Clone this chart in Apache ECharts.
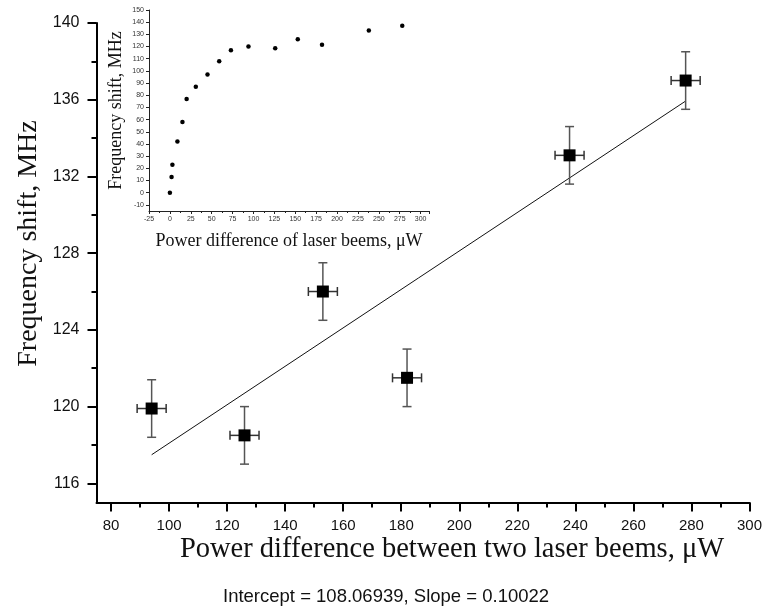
<!DOCTYPE html>
<html><head><meta charset="utf-8">
<script src="https://cdn.jsdelivr.net/npm/echarts@6/dist/echarts.min.js"></script>
<style>html,body{margin:0;padding:0;background:#fff}#c{width:765px;height:608px}</style>
</head><body><div id="c"></div>
<script>
// Main chart data
var powerDiff = [94, 126, 153, 182, 238, 278];
var freqShift = [119.9, 118.5, 126.0, 121.5, 133.1, 137.0];
var powerErr = [5, 5, 5, 5, 5, 5];
var freqErr = [1.5, 1.5, 1.5, 1.5, 1.5, 1.5];
var fitIntercept = 108.06939;
var fitSlope = 0.10022;
var fitRange = [94, 278];
var mainXLabels = [80, 100, 120, 140, 160, 180, 200, 220, 240, 260, 280, 300];
var mainXMinor = [90, 110, 130, 150, 170, 190, 210, 230, 250, 270, 290];
var mainYLabels = [116, 120, 124, 128, 132, 136, 140];
var mainYMinor = [118, 122, 126, 130, 134, 138];
// Inset data
var insetX = [0, 2, 3, 9, 15, 20, 31, 45, 59, 73, 94, 126, 153, 182, 238, 278];
var insetY = [0, 13, 23, 42, 58, 77, 87, 97, 108, 117, 120, 118.5, 126, 121.5, 133.1, 137];
var insetYLabels = [-10, 0, 10, 20, 30, 40, 50, 60, 70, 80, 90, 100, 110, 120, 130, 140, 150];

var serif = 'Liberation Serif';
var sans = 'Liberation Sans';

var errData = powerDiff.map(function (x, i) { return [x, freqShift[i], powerErr[i], freqErr[i]]; });
var ptData = powerDiff.map(function (x, i) { return [x, freqShift[i]]; });
var fitData = fitRange.map(function (x) { return [x, fitIntercept + fitSlope * x]; });
var insetData = insetX.map(function (x, i) { return [x, insetY[i]]; });

function renderErr(params, api) {
  var x = api.value(0), y = api.value(1), ex = api.value(2), ey = api.value(3);
  var t = api.coord([x, y + ey]), b = api.coord([x, y - ey]);
  var l = api.coord([x - ex, y]), r = api.coord([x + ex, y]);
  var cap = 4.5;
  var stV = { stroke: '#555', lineWidth: 1.5 };
  var stH = { stroke: '#333', lineWidth: 1.5 };
  function ln(x1, y1, x2, y2, st) { return { type: 'line', shape: { x1: x1, y1: y1, x2: x2, y2: y2 }, style: st }; }
  return { type: 'group', children: [
    ln(t[0], t[1], b[0], b[1], stV),
    ln(t[0] - cap, t[1], t[0] + cap, t[1], stV),
    ln(b[0] - cap, b[1], b[0] + cap, b[1], stV),
    ln(l[0], l[1], r[0], r[1], stH),
    ln(l[0], l[1] - cap, l[0], l[1] + cap, stH),
    ln(r[0], r[1] - cap, r[0], r[1] + cap, stH)
  ]};
}

var chart = echarts.init(document.getElementById('c'), null, { renderer: 'canvas' });
var axisLineMain = { show: true, onZero: false, lineStyle: { color: '#000', width: 2 } };
chart.setOption({
  animation: false,
  backgroundColor: '#fff',
  grid: [
    { left: 96.5, top: 23, right: 15, bottom: 105.5, containLabel: false },
    { left: 149, top: 10, width: 280, height: 201, containLabel: false }
  ],
  xAxis: [
    { type: 'value', gridIndex: 0, min: 75, max: 300, position: 'bottom',
      axisLine: axisLineMain,
      axisTick: { show: true, customValues: mainXLabels, length: 9, inside: false, lineStyle: { color: '#000', width: 2 } },
      axisLabel: { customValues: mainXLabels, fontFamily: sans, fontSize: 15, color: '#111', margin: 16 },
      splitLine: { show: false } },
    { type: 'value', gridIndex: 0, min: 75, max: 300, position: 'bottom',
      axisLine: { show: false },
      axisTick: { show: true, customValues: mainXMinor, length: 5, lineStyle: { color: '#000', width: 2 } },
      axisLabel: { show: false }, splitLine: { show: false } },
    { type: 'value', gridIndex: 1, min: -25, max: 310, interval: 25, position: 'bottom',
      axisLine: { show: true, onZero: false, lineStyle: { color: '#222', width: 1 } },
      axisTick: { show: true, length: 3, lineStyle: { color: '#222' } },
      minorTick: { show: true, splitNumber: 2, length: 2, lineStyle: { color: '#222' } },
      axisLabel: { fontFamily: sans, fontSize: 7, color: '#333', margin: 5,
        formatter: function (v) { return v > 300 ? '' : String(v); } },
      splitLine: { show: false },
      name: 'Power difference of laser beems, \u03bcW', nameLocation: 'middle', nameGap: 21,
      nameTextStyle: { fontFamily: serif, fontSize: 18, color: '#111', verticalAlign: 'top' } }
  ],
  yAxis: [
    { type: 'value', gridIndex: 0, min: 115, max: 140, position: 'left',
      axisLine: axisLineMain,
      axisTick: { show: true, customValues: mainYLabels, length: 9, lineStyle: { color: '#000', width: 2 } },
      axisLabel: { customValues: mainYLabels, fontFamily: sans, fontSize: 16, color: '#111', margin: 17 },
      splitLine: { show: false } },
    { type: 'value', gridIndex: 0, min: 115, max: 140, position: 'left',
      axisLine: { show: false },
      axisTick: { show: true, customValues: mainYMinor, length: 5, lineStyle: { color: '#000', width: 2 } },
      axisLabel: { show: false }, splitLine: { show: false } },
    { type: 'value', gridIndex: 1, min: -15, max: 150, position: 'left',
      axisLine: { show: true, onZero: false, lineStyle: { color: '#222', width: 1 } },
      axisTick: { show: true, customValues: insetYLabels, length: 3, lineStyle: { color: '#222' } },
      axisLabel: { customValues: insetYLabels, fontFamily: sans, fontSize: 7, color: '#333', margin: 5 },
      splitLine: { show: false },
      name: 'Frequency shift, MHz', nameLocation: 'middle', nameGap: 24,
      nameTextStyle: { fontFamily: serif, fontSize: 18, color: '#111' } }
  ],
  series: [
    { type: 'line', xAxisIndex: 0, yAxisIndex: 0, data: fitData, symbol: 'none',
      lineStyle: { color: '#111', width: 1 }, z: 2 },
    { type: 'custom', xAxisIndex: 0, yAxisIndex: 0, data: errData, renderItem: renderErr, z: 3 },
    { type: 'scatter', xAxisIndex: 0, yAxisIndex: 0, data: ptData, symbol: 'rect', symbolSize: 12,
      itemStyle: { color: '#000', opacity: 1 }, z: 4 },
    { type: 'scatter', xAxisIndex: 2, yAxisIndex: 2, data: insetData, symbol: 'circle', symbolSize: 4.5,
      itemStyle: { color: '#000', opacity: 1 }, z: 4 }
  ],
  graphic: [
    { type: 'text', x: 452, y: 550,
      style: { text: 'Power difference between two laser beems, \u03bcW', fontFamily: serif, fontSize: 28.5,
        fill: '#111', textAlign: 'center', textVerticalAlign: 'middle' } },
    { type: 'text', x: 28.5, y: 243.5, rotation: Math.PI / 2,
      style: { text: 'Frequency shift, MHz', fontFamily: serif, fontSize: 28,
        fill: '#111', textAlign: 'center', textVerticalAlign: 'middle' } },
    { type: 'text', left: 223, top: 587,
      style: { text: 'Intercept = 108.06939, Slope = 0.10022', fontFamily: sans, fontSize: 18.5, fill: '#111' } }
  ]
});
</script></body></html>
